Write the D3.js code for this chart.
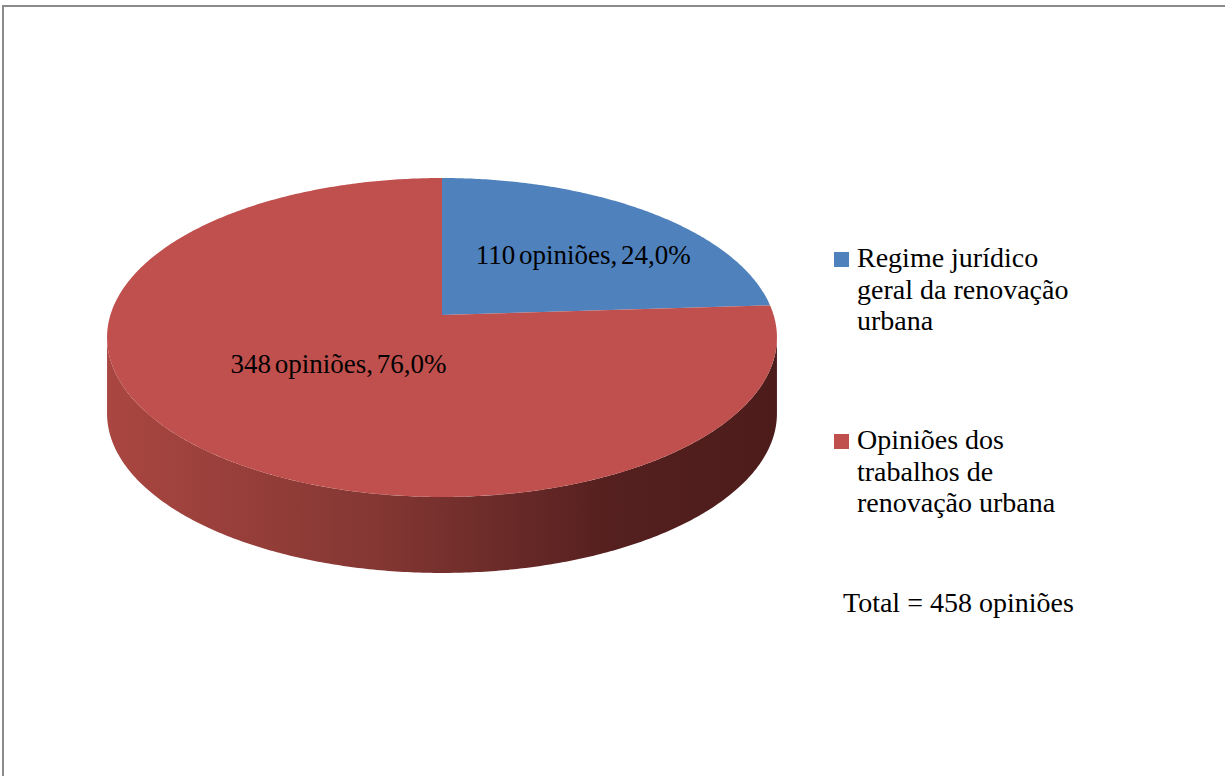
<!DOCTYPE html>
<html>
<head>
<meta charset="utf-8">
<script src="https://cdn.jsdelivr.net/npm/d3@7"></script>
<style>
  body { margin: 0; background: #fff; }
  text { font-family: "Liberation Serif", "Times New Roman", serif; fill: #000; }
</style>
</head>
<body>
<div id="chart"></div>
<script>
// data
const categories = ['Regime jurídico geral da renovação urbana', 'Opiniões dos trabalhos de renovação urbana'];
const values = [110, 348];
const pieLabels = ['110 opiniões, 24,0%', '348 opiniões, 76,0%'];
const legendLines = [['Regime jurídico', 'geral da renovação', 'urbana'], ['Opiniões dos', 'trabalhos de', 'renovação urbana']];
const totalLabel = 'Total = 458 opiniões';
const colors = ['#4f81bd', '#c0504d'];

const width = 1225;
const height = 776;

const svg = d3.select('#chart').append('svg').attr('width', width).attr('height', height);

// outer frame
svg.append('rect')
  .attr('x', 3).attr('y', 6)
  .attr('width', width + 10).attr('height', height + 10)
  .attr('fill', 'none').attr('stroke', '#8a8a8a').attr('stroke-width', 2);

// perspective disc: theta clockwise from top
const cx = 442, cy = 315;
const a = 331.6, b = 156.3, p = 0.141;
const depth = 76;

function proj(theta, r, dy) {
  const u = r * Math.sin(theta), v = r * Math.cos(theta);
  const w = 1 + p * v;
  return [cx + a * u / w, cy + (dy || 0) - b * v / w];
}

function arcPoints(t0, t1, r, dy) {
  const n = Math.max(2, Math.ceil(Math.abs(t1 - t0) / 0.01));
  return d3.range(n + 1).map(i => proj(t0 + (t1 - t0) * i / n, r, dy));
}

const line = d3.line();

const arcs = d3.pie().sort(null).value(d => d)(values);

// side gradient
const defs = svg.append('defs');
const grad = defs.append('linearGradient').attr('id', 'side')
  .attr('gradientUnits', 'userSpaceOnUse')
  .attr('x1', cx - a * 1.01).attr('x2', cx + a * 1.01).attr('y1', 0).attr('y2', 0);
[[0, '#aa4641'], [0.4, '#843733'], [0.75, '#55201f'], [1, '#4c1c1b']].forEach(([o, c]) => {
  grad.append('stop').attr('offset', o).attr('stop-color', c);
});

// visible side (front part of the rim)
const tR = Math.acos(-p);
const tL = 2 * Math.PI - tR;
const sidePts = arcPoints(tR, tL, 1, 0).concat(arcPoints(tL, tR, 1, depth));
svg.append('path')
  .attr('d', line(sidePts) + 'Z')
  .attr('fill', 'url(#side)');

// top face slices
svg.selectAll('path.slice')
  .data(arcs)
  .enter()
  .append('path')
  .attr('class', 'slice')
  .attr('d', d => line([proj(0, 0)].concat(arcPoints(d.startAngle, d.endAngle, 1, 0))) + 'Z')
  .attr('fill', (d, i) => colors[i]);

// slice labels
const labelR = [0.664, 0.435];
const labelDy = [20, 6];
svg.selectAll('text.pie-label')
  .data(arcs)
  .enter()
  .append('text')
  .attr('class', 'pie-label')
  .attr('text-anchor', 'middle')
  .attr('x', (d, i) => proj((d.startAngle + d.endAngle) / 2, labelR[i], labelDy[i])[0])
  .attr('y', (d, i) => proj((d.startAngle + d.endAngle) / 2, labelR[i], labelDy[i])[1])
  .style('font-size', '27px')
  .style('word-spacing', '-3px')
  .text((d, i) => pieLabels[i]);

// legend
const legendY = [267, 449];
const legend = svg.selectAll('g.legend')
  .data(categories)
  .enter()
  .append('g')
  .attr('class', 'legend')
  .attr('transform', (d, i) => `translate(834,${legendY[i]})`);

legend.append('rect')
  .attr('x', 0).attr('y', -15)
  .attr('width', 15).attr('height', 15)
  .attr('fill', (d, i) => colors[i]);

legend.each(function (d, i) {
  const g = d3.select(this);
  legendLines[i].forEach((t, j) => {
    g.append('text')
      .attr('x', 23).attr('y', j * 31.5)
      .style('font-size', '28px')
      .text(t);
  });
});

svg.append('text')
  .attr('x', 843).attr('y', 612)
  .style('font-size', '28px')
  .text(totalLabel);
</script>
</body>
</html>
